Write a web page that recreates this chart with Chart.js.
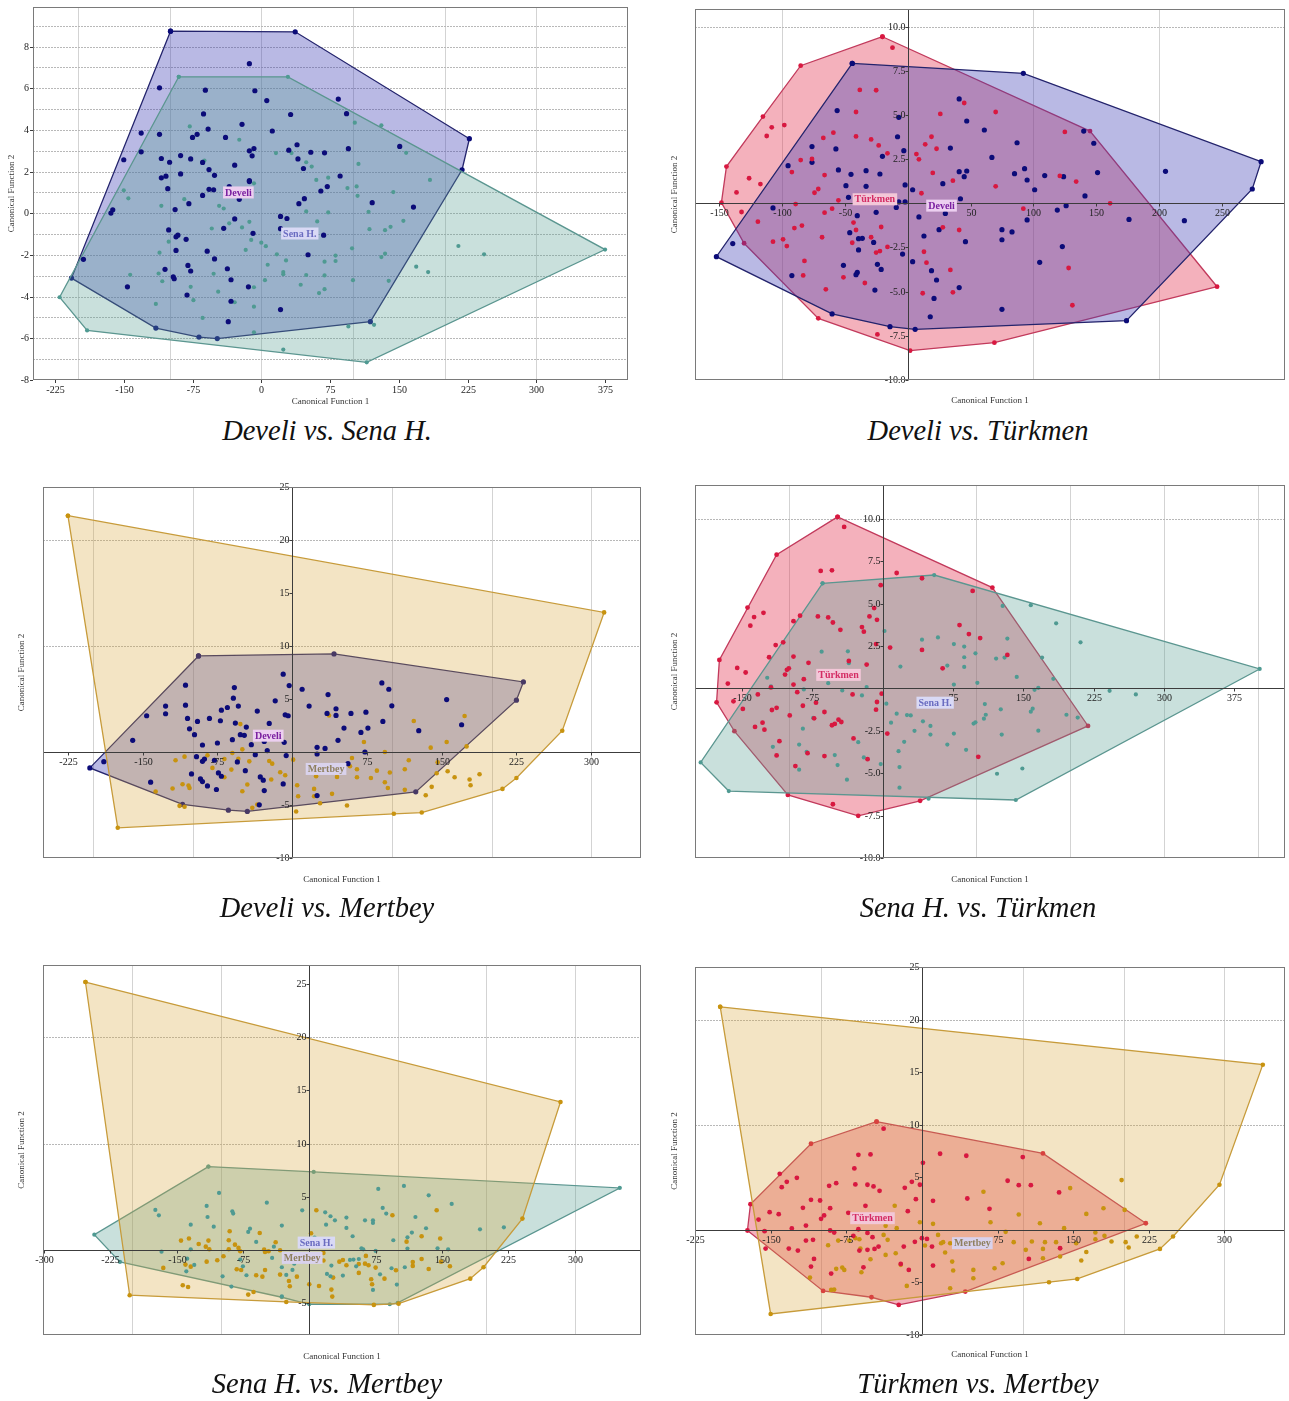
<!DOCTYPE html>
<html>
<head>
<meta charset="utf-8">
<script src="https://cdn.jsdelivr.net/npm/chart.js@4.4.0/dist/chart.umd.min.js"></script>
<style>
  body { margin: 0; background: #fff; width: 1289px; height: 1401px; position: relative; overflow: hidden; }
  canvas { position: absolute; }
  .cap { position: absolute; width: 600px; text-align: center; font: italic 28.5px "Liberation Serif", "Times New Roman", serif; color: #111; }
</style>
</head>
<body>
<canvas id="c1" width="645" height="410" style="left:0;top:0"></canvas>
<canvas id="c2" width="629" height="410" style="left:660px;top:0"></canvas>
<canvas id="c3" width="650" height="425" style="left:0;top:470px"></canvas>
<canvas id="c4" width="629" height="425" style="left:660px;top:470px"></canvas>
<canvas id="c5" width="650" height="420" style="left:0;top:950px"></canvas>
<canvas id="c6" width="629" height="420" style="left:660px;top:950px"></canvas>
<div class="cap" style="left:27px;top:415px">Develi vs. Sena H.</div>
<div class="cap" style="left:678px;top:415px">Develi vs. Türkmen</div>
<div class="cap" style="left:27px;top:892px">Develi vs. Mertbey</div>
<div class="cap" style="left:678px;top:892px">Sena H. vs. Türkmen</div>
<div class="cap" style="left:27px;top:1368px">Sena H. vs. Mertbey</div>
<div class="cap" style="left:678px;top:1368px">Türkmen vs. Mertbey</div>
<script>
// ---- panel 1: Develi vs. Sena H. ----
const p1XTicks = [-225, -150, -75, 0, 75, 150, 225, 300, 375];
const p1YTicks = [-8, -6, -4, -2, 0, 2, 4, 6, 8];
const p1XGrid = [-200, -100, 0, 100, 200, 300];
const p1YGrid = [-7, -6, -5, -4, -3, -2, -1, 0, 1, 2, 3, 4, 5, 6, 7, 8, 9];
const p1DeveliHull = [[-99,8.74],[37,8.71],[227,3.58],[219,2.09],[119,-5.2],[-48,-6.01],[-68,-5.94],[-115,-5.51],[-207,-3.11]];
const p1Develi = [[-13,7.18],[-111,6.02],[-61,5.91],[-7,5.88],[6,5.41],[84,5.48],[-63,4.77],[32,4.74],[93,4.78],[-21,4.27],[-58,4.04],[-131,3.85],[-111,3.79],[-70,3.79],[-75,3.64],[-39,3.64],[12,3.95],[39,3.29],[95,3.10],[151,3.21],[-13,3.0],[-8,3.11],[30,3.03],[-10,2.76],[-150,2.57],[-131,2.95],[-109,2.63],[-100,2.45],[-88,2.77],[-77,2.61],[-64,2.44],[40,2.61],[54,2.93],[69,2.90],[-29,2.31],[46,2.15],[-57,2.10],[-51,1.82],[-88,1.89],[86,1.79],[-109,1.70],[-104,1.78],[-13,1.52],[-13,1.57],[-102,1.18],[-57,1.15],[-52,1.13],[-64,0.86],[-35,1.28],[-24,0.67],[65,1.07],[72,1.28],[47,0.70],[41,0.46],[121,0.51],[166,0.30],[-162,0.17],[-164,0.01],[-94,0.18],[-79,0.46],[-29,-0.27],[21,-0.15],[28,-0.25],[-41,-0.72],[21,-0.74],[-9,-0.96],[68,-1.05],[-101,-0.80],[-91,-1.05],[-93,-1.13],[-82,-1.25],[-93,-1.78],[-59,-1.82],[51,-1.99],[-194,-2.21],[-80,-2.50],[-77,-2.77],[-51,-2.19],[-37,-2.66],[-105,-2.69],[-96,-3.05],[-95,-3.14],[-33,-3.19],[-146,-3.53],[-14,-3.53],[-81,-3.92],[-33,-4.22],[21,-4.62],[-36,-5.20]];
const p1SenaHull = [[-90,6.55],[29,6.55],[375,-1.74],[115,-7.15],[-190,-5.62],[-220,-4.03]];
const p1Sena = [[-78,4.17],[-24,3.53],[102,4.35],[131,4.22],[158,2.90],[16,2.89],[33,2.89],[106,2.37],[49,2.45],[55,2.24],[-62,2.53],[184,1.60],[60,1.60],[73,1.71],[144,1.02],[104,1.29],[94,1.21],[105,0.84],[-150,1.10],[-145,0.72],[-109,0.36],[-84,0.68],[-46,0.36],[-41,0.23],[-8,1.44],[-13,-0.41],[-35,-0.48],[-21,-0.68],[-54,-0.73],[0,-1.41],[5,-1.58],[-17,-1.76],[-11,-1.28],[17,-1.97],[27,-2.26],[7,-2.47],[24,-2.82],[24,-2.92],[49,-2.96],[69,-2.98],[69,-2.32],[81,-2.03],[81,-2.29],[69,-3.64],[63,-3.83],[43,-3.43],[4,-3.21],[-8,-3.55],[-8,-4.48],[-29,-4.27],[-47,-3.76],[-52,-2.90],[-77,-3.53],[-74,-4.17],[-64,-5.02],[-115,-4.35],[-112,-2.89],[-108,-3.26],[-111,-1.89],[-143,-2.95],[-101,-1.36],[-8,-5.71],[24,-6.54],[95,-5.43],[123,-5.35],[139,-3.24],[100,-3.21],[135,-1.94],[131,-2.10],[99,-1.68],[118,-0.76],[135,-0.81],[141,-0.65],[155,-0.36],[117,0.07],[73,0.04],[49,0.09],[61,-0.39],[215,-1.57],[243,-1.97],[169,-2.56],[182,-2.82]];

// ---- panel 2: Develi vs. Türkmen ----
const p2XTicks = [-150, -100, -50, 50, 100, 150, 200, 250];
const p2YTicks = [10, 7.5, 5, 2.5, -2.5, -5, -7.5, -10];
const p2XGrid = [-100, 100, 200];
const p2YGrid = [10];
const p2DeveliHull = [[-44,7.92],[92,7.36],[281,2.36],[274,0.81],[174,-6.64],[6,-7.13],[-14,-6.98],[-60,-6.26],[-152,-3.02]];
const p2Develi = [[41,5.91],[47,4.66],[61,4.15],[-56,5.25],[-7,4.87],[140,4.09],[148,3.40],[87,3.43],[-76,3.21],[-57,3.08],[-8,3.77],[-3,2.98],[34,3.13],[-20,2.66],[67,2.60],[-95,2.13],[-76,2.32],[-55,1.89],[-45,1.64],[-33,1.85],[-22,1.66],[41,1.79],[47,1.83],[45,1.51],[85,1.68],[93,1.96],[95,1.32],[109,1.57],[124,1.51],[151,1.74],[205,1.81],[28,1.11],[-2,1.04],[4,0.77],[-49,1.00],[-33,0.96],[101,0.77],[141,0.42],[42,0.26],[-47,0.34],[-7,0.08],[-2,0.08],[-107,-0.26],[126,-0.13],[119,-0.38],[-9,-0.23],[-25,-0.51],[-40,-0.70],[30,-0.57],[9,-0.77],[95,-0.94],[176,-0.91],[220,-0.98],[25,-1.49],[75,-1.49],[83,-1.62],[-46,-1.66],[-39,-2.0],[-36,-1.98],[-27,-2.21],[13,-1.85],[75,-2.06],[46,-2.17],[-39,-2.64],[123,-2.45],[-4,-2.87],[-51,-3.51],[-24,-3.45],[-21,-3.74],[-40,-3.91],[-41,-4.04],[4,-3.30],[19,-3.81],[23,-4.34],[-92,-4.09],[-26,-4.91],[41,-4.77],[21,-5.38],[18,-6.42],[75,-6.0],[105,-3.34],[-139,-2.28]];
const p2TurkmenHull = [[-20,9.43],[145,4.09],[246,-4.72],[69,-7.89],[2,-8.34],[-71,-6.51],[-130,-2.26],[-148,0.04],[-144,2.08],[-115,4.91],[-85,7.79]];
const p2Turkmen = [[-12,8.81],[-38,6.42],[-25,6.40],[45,5.68],[70,5.17],[26,5.06],[-41,5.17],[-98,4.43],[-108,4.30],[-112,3.81],[-59,4.0],[-67,3.70],[-41,3.79],[-29,3.62],[-23,3.28],[19,3.77],[14,3.34],[23,3.09],[125,4.04],[-16,2.83],[7,2.79],[9,2.49],[-85,2.45],[-76,2.51],[-92,1.77],[-66,1.60],[20,1.72],[36,1.28],[121,1.55],[134,1.23],[-126,1.42],[-117,1.09],[-136,0.62],[-71,0.81],[-74,0.60],[70,0.96],[-55,0.17],[11,0.57],[-60,-0.30],[-66,-0.53],[-89,-0.04],[-132,-0.49],[-119,-1.04],[161,0.0],[92,-0.30],[-43,-1.09],[-41,-1.51],[-21,-1.34],[28,-1.36],[41,-1.51],[-90,-1.40],[-84,-1.26],[-68,-1.92],[-99,-2.04],[-96,-2.42],[-107,-2.17],[-44,-2.23],[-29,-1.92],[-25,-2.79],[-22,-2.70],[-16,-2.47],[13,-2.74],[15,-3.36],[34,-3.77],[128,-3.66],[-82,-3.26],[-83,-4.08],[-51,-4.19],[-34,-4.51],[-65,-4.87],[12,-5.09],[36,-5.04],[131,-5.77],[-24,-7.42]];

// ---- panel 3: Develi vs. Mertbey ----
const p3XTicks = [-225, -150, -75, 75, 150, 225, 300];
const p3YTicks = [25, 20, 15, 10, 5, -5, -10];
const p3XGrid = [-200, -100, 100, 200, 300];
const p3YGrid = [10, 20];
const p3MertbeyHull = [[-225,22.29],[313,13.17],[271,2.01],[225,-2.45],[211,-3.48],[130,-5.71],[102,-5.83],[-175,-7.15]];
const p3Mertbey = [[173,3.39],[122,2.92],[37,3.45],[-52,2.63],[-27,1.32],[72,0.94],[155,0.94],[175,0.53],[139,0.41],[93,0.0],[-60,-0.09],[-50,0.25],[-85,-0.31],[-117,-0.78],[-108,-0.44],[-68,-0.66],[-54,-0.63],[-43,-0.88],[-23,-0.85],[-20,-1.10],[1,-0.72],[117,-0.78],[60,-0.56],[58,-1.35],[65,-1.63],[85,-1.76],[98,-1.94],[146,-0.97],[156,-1.82],[163,-2.38],[178,-2.60],[188,-2.10],[179,-3.13],[145,-2.01],[140,-3.29],[134,-4.08],[113,-1.63],[79,-2.45],[65,-2.38],[93,-2.85],[96,-3.39],[113,-3.57],[40,-1.94],[45,-2.35],[24,-2.29],[5,-3.13],[22,-3.48],[6,-4.17],[22,-4.17],[40,-3.95],[28,-4.83],[55,-5.05],[4,-5.61],[-21,-2.60],[-45,-3.07],[-68,-2.38],[-61,-1.66],[-80,-1.50],[-110,-3.04],[-104,-3.17],[-103,-3.39],[-120,-3.45],[-137,-3.73],[-113,-5.08],[-108,-5.17],[-40,-5.27],[-35,-4.95],[-50,-3.70],[-12,-1.91],[-7,-2.19]];
const p3DeveliHull = [[-94,9.06],[42,9.25],[232,6.61],[225,4.89],[124,-3.76],[-45,-5.61],[-64,-5.49],[-110,-4.95],[-203,-1.50]];
const p3Develi = [[-9,7.34],[-3,6.27],[-107,6.30],[-58,6.08],[10,5.92],[90,6.52],[97,5.92],[36,5.42],[155,4.95],[-17,4.83],[-59,5.08],[-54,4.33],[17,4.33],[100,4.36],[-127,4.33],[-127,3.61],[-146,3.42],[-107,4.42],[-71,3.95],[-65,4.20],[-35,3.86],[44,4.08],[35,3.64],[44,3.45],[59,3.64],[74,3.76],[-7,3.51],[-4,3.42],[-105,3.17],[-95,2.88],[-83,3.17],[-72,2.95],[-57,2.73],[-46,2.35],[-23,2.70],[91,2.88],[170,2.57],[-103,2.19],[-98,1.63],[-52,1.63],[-48,1.57],[52,2.26],[76,2.26],[69,1.85],[127,2.01],[-160,1.10],[-90,0.66],[-75,0.85],[-60,1.16],[-41,0.69],[-28,1.00],[-8,0.91],[46,1.10],[25,0.44],[33,0.34],[73,0.0],[-189,-0.91],[-96,-0.44],[-88,-0.66],[-90,-0.88],[-25,0.13],[-37,-0.25],[-6,-0.34],[-55,-0.94],[-78,-0.78],[-47,-1.76],[25,-0.19],[56,-1.10],[-101,-2.07],[-74,-1.97],[-71,-2.29],[-32,-2.35],[-29,-2.66],[-9,-3.01],[-92,-2.54],[-90,-2.79],[-85,-3.20],[-76,-3.54],[-28,-3.64],[-142,-2.85],[25,-4.11],[-33,-4.98]];

// ---- panel 4: Sena H. vs. Türkmen ----
const p4XTicks = [-150, -75, 75, 150, 225, 300, 375];
const p4YTicks = [10, 7.5, 5, 2.5, -2.5, -5, -7.5, -10];
const p4XGrid = [-100, 100, 200, 300, 400];
const p4YGrid = [10];
const p4SenaHull = [[-64,6.20],[55,6.69],[402,1.15],[142,-6.58],[-164,-6.05],[-194,-4.36]];
const p4Sena = [[128,4.87],[158,4.91],[185,3.84],[211,2.72],[133,2.94],[59,3.01],[42,2.88],[76,2.62],[87,2.47],[99,2.07],[87,1.84],[121,1.76],[130,1.82],[170,1.82],[69,1.35],[87,1.27],[76,0.23],[101,0.33],[143,0.68],[166,0.04],[162,-0.08],[182,0.57],[242,-0.14],[270,-0.35],[2,3.39],[19,1.29],[-65,2.17],[-37,2.19],[-36,1.49],[-17,0.08],[-22,-0.41],[-58,0.31],[-43,-0.12],[-123,0.63],[-119,0.12],[-84,-0.06],[4,-0.90],[15,-1.49],[26,-1.57],[30,-1.59],[43,-1.94],[51,-2.21],[51,-2.72],[76,-2.66],[69,-3.31],[89,-3.62],[97,-2.07],[99,-2.0],[110,-1.55],[108,-1.78],[109,-0.92],[126,-1.23],[127,-2.72],[158,-1.37],[160,-1.19],[166,-2.49],[196,-1.55],[208,-1.72],[9,-2.02],[34,-2.50],[23,-3.15],[17,-3.70],[18,-4.64],[18,-5.85],[-2,-4.46],[-20,-4.07],[-26,-3.17],[-38,-5.38],[-48,-4.52],[-51,-3.93],[-89,-3.31],[-81,-3.74],[-89,-4.79],[-74,-1.74],[-85,-2.37],[-117,-3.44],[49,-6.50],[122,-5.03],[149,-4.72]];
const p4TurkmenHull = [[-48,10.12],[117,5.95],[219,-2.21],[40,-6.63],[-26,-7.51],[-101,-6.28],[-158,-2.52],[-177,-0.82],[-174,1.68],[-113,7.89]];
const p4Turkmen = [[-41,9.53],[-66,6.93],[-54,6.97],[15,6.81],[42,6.50],[-2,6.09],[96,5.75],[-144,4.77],[-9,4.74],[-127,4.46],[-137,4.21],[-141,3.70],[-69,4.25],[-58,4.19],[-88,4.29],[-95,3.97],[-53,3.89],[-6,4.05],[-14,4.25],[-45,3.46],[-22,3.62],[-20,3.35],[82,3.74],[92,3.21],[104,2.97],[-114,2.56],[-106,2.72],[8,2.41],[-7,2.62],[42,2.27],[133,1.98],[-121,1.84],[-95,1.88],[-79,1.51],[-155,1.21],[-146,0.94],[-102,1.10],[-100,1.19],[-104,0.82],[-17,1.41],[-36,1.62],[64,1.19],[-165,0.29],[-95,0.23],[-91,-0.22],[-84,0.55],[-50,0.65],[-32,-0.35],[-1,-0.31],[-119,0.06],[-133,-0.35],[-159,-0.76],[-149,-1.21],[-118,-1.27],[-113,-1.14],[-99,-1.59],[-85,-1.02],[-71,-0.84],[-62,-1.39],[-73,-1.76],[-47,-1.84],[-54,-2.17],[-51,-2.09],[-44,-1.98],[-6,-0.80],[-7,-1.25],[-136,-2.27],[-128,-2.02],[-126,-2.43],[5,-2.66],[-31,-2.95],[-110,-3.11],[-113,-3.95],[-80,-3.82],[-62,-3.99],[-16,-4.17],[-93,-4.58],[102,-4.03],[-53,-6.83]];

// ---- panel 5: Sena H. vs. Mertbey ----
const p5XTicks = [-300, -225, -150, -75, 75, 150, 225, 300];
const p5YTicks = [25, 20, 15, 10, 5, -5];
const p5XGrid = [-200, -100, 100, 200, 300];
const p5YGrid = [10, 20];
const p5MertbeyHull = [[-253,25.2],[284,13.92],[241,2.95],[197,-1.63],[182,-2.70],[101,-5.05],[73,-5.17],[-26,-4.89],[-203,-4.26]];
const p5Mertbey = [[8,3.73],[94,3.26],[144,3.73],[-90,1.76],[-56,1.60],[2,1.57],[-38,0.72],[-145,0.88],[-136,1.07],[-125,0.56],[-114,0.88],[-117,0.31],[-113,0.06],[-91,0.91],[-91,0.06],[-84,0.50],[-80,0.19],[-78,-0.13],[-51,0.03],[-50,-0.19],[-46,-0.13],[-33,-0.03],[-22,-0.44],[16,-0.28],[16,-1.0],[34,-1.10],[38,-0.94],[42,-1.44],[56,-1.32],[64,-0.56],[67,-1.44],[75,-1.66],[110,0.78],[127,1.29],[148,1.07],[117,-1.13],[117,-1.50],[135,-1.79],[159,-1.54],[127,-0.85],[149,-1.10],[98,-1.91],[85,-2.70],[70,-2.76],[71,-3.23],[27,-2.60],[25,-3.73],[26,-4.39],[11,-3.39],[0,-3.23],[-22,-3.42],[-23,-2.92],[-33,-2.32],[-60,-2.38],[-50,-1.88],[-69,-4.20],[-63,-3.95],[-143,-3.32],[-137,-3.48],[-165,-1.69],[-140,-1.38],[-134,-1.57],[-116,-1.10],[-104,-0.97],[-97,-0.60],[-82,-1.82],[-77,-1.88],[-53,-2.51],[-14,-2.51],[56,-2.16],[63,-1.29]];
const p5SenaHull = [[-114,7.84],[5,7.34],[351,5.83],[100,-4.98],[91,-5.11],[0,-5.11],[-31,-4.45],[-214,-1.13],[-243,1.44]];
const p5Sena = [[107,6.02],[78,5.74],[135,5.14],[-102,5.36],[-48,4.45],[161,4.33],[83,3.95],[-116,4.14],[-174,3.76],[-170,3.26],[-115,3.10],[-87,3.64],[-86,3.42],[-8,3.73],[18,3.54],[24,3.17],[29,2.79],[42,3.04],[63,2.79],[72,2.79],[72,2.54],[87,3.42],[120,3.10],[132,2.04],[116,1.63],[193,1.94],[220,2.13],[-134,2.38],[-108,2.19],[-67,2.0],[-69,1.69],[-31,2.29],[19,2.38],[42,2.07],[49,1.29],[111,1.19],[95,0.91],[-60,0.75],[-40,0.31],[6,1.16],[-134,0.06],[-167,-0.16],[59,0.16],[61,0.06],[75,-0.09],[111,0.13],[145,0.16],[157,0.06],[-138,-0.82],[-130,-1.41],[-139,-2.01],[-78,-0.91],[-75,-1.54],[-71,-2.38],[-42,-0.75],[-31,-1.63],[-26,-2.35],[-19,-1.88],[-17,-1.29],[-6,-1.13],[25,-1.47],[20,-2.26],[46,-0.94],[50,-0.91],[38,-2.41],[53,-1.54],[56,-0.85],[72,-3.76],[80,-2.29],[-98,-2.48],[-88,-3.45],[-31,-4.36],[24,-2.48],[99,-3.26],[93,-1.72],[108,-1.63]];

// ---- panel 6: Türkmen vs. Mertbey ----
const p6XTicks = [-225, -150, -75, 75, 150, 225, 300];
const p6YTicks = [25, 20, 15, 10, 5, -5, -10];
const p6XGrid = [-100, 100, 200, 300];
const p6YGrid = [10, 20];
const p6MertbeyHull = [[-200,21.21],[338,15.71],[295,4.29],[249,-0.63],[236,-1.81],[154,-4.67],[126,-4.98],[-150,-8.0]];
const p6Mertbey = [[198,4.73],[147,3.97],[61,3.62],[-27,2.29],[180,2.06],[201,1.90],[163,1.52],[96,1.46],[68,0.73],[117,0.63],[-2,0.73],[11,0.57],[-36,0.38],[-25,0.16],[141,0.16],[172,-0.25],[172,-0.89],[181,-0.57],[188,-1.11],[202,-1.17],[205,-1.68],[213,-0.63],[83,-0.19],[91,-1.17],[109,-1.11],[122,-1.17],[133,-1.17],[153,-1.27],[163,-2.10],[158,-2.92],[137,-2.54],[120,-1.81],[120,-2.70],[103,-1.90],[80,-3.17],[72,-3.65],[51,-3.81],[30,-3.02],[23,-2.16],[3,-1.49],[19,-1.27],[28,-1.27],[21,-1.17],[16,-0.48],[31,-3.87],[51,-4.60],[28,-5.56],[-15,-5.33],[-21,-3.33],[-26,-2.22],[-38,-0.48],[-34,-0.95],[-62,-0.89],[-61,-1.78],[-36,-2.38],[-51,-2.79],[-66,-0.79],[-72,-1.02],[-83,-1.02],[-93,-1.46],[-79,-3.59],[-77,-3.81],[-85,-3.71],[-60,-4.03],[-87,-5.68],[-90,-5.71],[-111,-4.54]];
const p6TurkmenHull = [[-45,10.29],[120,7.27],[222,0.63],[43,-5.87],[-23,-7.14],[-50,-6.41],[-98,-5.81],[-173,-0.06],[-170,2.44],[-110,8.19]];
const p6Turkmen = [[-38,9.62],[-63,7.14],[-51,7.17],[18,7.24],[44,7.05],[100,6.92],[-67,5.84],[1,6.38],[-141,5.33],[-134,4.57],[-124,4.95],[-139,4.06],[-92,4.19],[-85,4.44],[-66,4.32],[-54,4.29],[-48,4.13],[-42,3.71],[-17,4.0],[-10,4.57],[-2,4.29],[85,4.67],[96,4.25],[108,4.25],[136,3.56],[-6,2.92],[11,2.76],[45,2.98],[-110,2.86],[-101,2.79],[-118,2.10],[-91,2.06],[-56,2.29],[67,2.0],[-14,1.78],[-151,1.68],[-142,1.49],[-162,0.98],[-100,1.05],[-97,1.37],[-73,1.62],[-63,0.89],[-115,0.41],[-156,-0.13],[-129,0.13],[-91,-0.06],[-87,-0.25],[-68,-0.57],[-63,0.06],[-54,-0.29],[-49,-0.70],[-115,-1.02],[-108,-0.95],[-155,-1.78],[-132,-1.78],[-123,-1.97],[-107,-2.76],[-110,-3.49],[-90,-4.16],[-58,-3.56],[-54,-1.90],[-47,-1.81],[-43,-1.59],[-62,-1.97],[-18,-1.59],[-7,-1.14],[0,-0.79],[5,-0.86],[11,-3.40],[-13,-3.81],[-21,-3.24],[10,-1.59],[106,-2.76],[137,-1.75]];

const FONT = '"Liberation Serif", "Times New Roman", serif';

// group styles
const STY = {
  Develi:  { pt: '#0b0b78', line: '#23236c', fill: 'rgba(60,60,180,0.36)', r: 2.6, text: '#7a1fa0', bg: '#eccff0' },
  'Sena H.': { pt: '#4f9a92', line: '#5b9690', fill: 'rgba(90,160,150,0.33)', r: 2.1, text: '#6a6cc0', bg: '#d9d9f5' },
  'Türkmen': { pt: '#d81840', line: '#c23a5c', fill: 'rgba(225,50,80,0.38)', r: 2.4, text: '#d42c64', bg: '#f3c7d8' },
  Mertbey: { pt: '#c8930f', line: '#c79b3a', fill: 'rgba(215,165,60,0.30)', r: 2.3, text: '#8f8060', bg: '#d9d2ec' }
};

function toXY(a) { return a.map(p => ({ x: p[0], y: p[1] })); }
function closed(a) { const r = toXY(a); r.push(r[0]); return r; }

function fmt(v, dec) { return dec ? v.toFixed(dec) : String(v); }

function makeDeco(cfg) {
  return {
    id: 'deco',
    beforeDatasetsDraw(chart) {
      const { ctx, chartArea: a, scales: { x, y } } = chart;
      ctx.save();
      ctx.lineWidth = 1;
      ctx.strokeStyle = '#d3d3d3';
      cfg.xGrid.forEach(v => {
        const px = Math.round(x.getPixelForValue(v)) + 0.5;
        ctx.beginPath(); ctx.moveTo(px, a.top); ctx.lineTo(px, a.bottom); ctx.stroke();
      });
      ctx.strokeStyle = '#b8b8b8';
      ctx.setLineDash([2, 1]);
      cfg.yGrid.forEach(v => {
        const py = Math.round(y.getPixelForValue(v)) + 0.5;
        ctx.beginPath(); ctx.moveTo(a.left, py); ctx.lineTo(a.right, py); ctx.stroke();
      });
      ctx.restore();
    },
    afterDatasetsDraw(chart) {
      const { ctx, chartArea: a, scales: { x, y } } = chart;
      ctx.save();
      ctx.lineWidth = 1;
      ctx.font = '10px ' + FONT;
      ctx.fillStyle = '#222';
      ctx.strokeStyle = '#3c3c3c';
      if (cfg.centered) {
        const x0 = Math.round(x.getPixelForValue(0)) + 0.5;
        const y0 = Math.round(y.getPixelForValue(0)) + 0.5;
        ctx.beginPath(); ctx.moveTo(x0, a.top); ctx.lineTo(x0, a.bottom); ctx.stroke();
        ctx.beginPath(); ctx.moveTo(a.left, y0); ctx.lineTo(a.right, y0); ctx.stroke();
        ctx.textAlign = 'right'; ctx.textBaseline = 'middle';
        cfg.yTicks.forEach(v => {
          const py = Math.round(y.getPixelForValue(v)) + 0.5;
          ctx.beginPath(); ctx.moveTo(x0 - 3, py); ctx.lineTo(x0, py); ctx.stroke();
          ctx.fillText(fmt(v, cfg.yDec), x0 - 3, py);
        });
        ctx.textAlign = 'center'; ctx.textBaseline = 'top';
        cfg.xTicks.forEach(v => {
          const px = Math.round(x.getPixelForValue(v)) + 0.5;
          ctx.beginPath(); ctx.moveTo(px, y0); ctx.lineTo(px, y0 + 3); ctx.stroke();
          ctx.fillText(fmt(v), px, y0 + 5);
        });
      } else {
        ctx.textAlign = 'right'; ctx.textBaseline = 'middle';
        cfg.yTicks.forEach(v => {
          const py = Math.round(y.getPixelForValue(v)) + 0.5;
          ctx.beginPath(); ctx.moveTo(a.left - 3, py); ctx.lineTo(a.left, py); ctx.stroke();
          ctx.fillText(fmt(v), a.left - 4, py);
        });
        ctx.textAlign = 'center'; ctx.textBaseline = 'top';
        cfg.xTicks.forEach(v => {
          const px = Math.round(x.getPixelForValue(v)) + 0.5;
          ctx.beginPath(); ctx.moveTo(px, a.bottom); ctx.lineTo(px, a.bottom + 3); ctx.stroke();
          ctx.fillText(fmt(v), px, a.bottom + 5);
        });
      }
      // frame
      ctx.strokeStyle = '#7a7a7a';
      ctx.strokeRect(a.left + 0.5, a.top + 0.5, a.right - a.left - 1, a.bottom - a.top - 1);

      // group name labels
      ctx.font = 'bold 10px ' + FONT;
      ctx.textAlign = 'center'; ctx.textBaseline = 'middle';
      cfg.labels.forEach(l => {
        const s = STY[l.name];
        const px = x.getPixelForValue(l.at[0]), py = y.getPixelForValue(l.at[1]);
        const w = ctx.measureText(l.name).width + 4;
        ctx.fillStyle = s.bg;
        ctx.fillRect(px - w / 2, py - 6, w, 12);
        ctx.fillStyle = s.text;
        ctx.fillText(l.name, px, py + 0.5);
      });

      // axis titles
      ctx.font = '9px ' + FONT;
      ctx.fillStyle = '#333';
      ctx.fillText('Canonical Function 1', (a.left + a.right) / 2, a.bottom + cfg.xTitleGap);
      ctx.translate(cfg.yTitleX, (a.top + a.bottom) / 2);
      ctx.rotate(-Math.PI / 2);
      ctx.fillText('Canonical Function 2', 0, 0);
      ctx.restore();
    }
  };
}

function makeChart(id, cfg) {
  const datasets = [];
  // points on top, hulls underneath
  cfg.groups.forEach((g, i) => {
    const s = STY[g.name];
    datasets.push({
      type: 'scatter', label: g.name + ' points', data: toXY(g.pts), order: i,
      pointRadius: s.r, pointBackgroundColor: s.pt, pointBorderWidth: 0
    });
  });
  cfg.groups.forEach((g, i) => {
    const s = STY[g.name];
    datasets.push({
      type: 'line', label: g.name + ' hull', data: closed(g.hull), order: 10 + (cfg.groups.length - i),
      borderColor: s.line, borderWidth: 1.3, backgroundColor: s.fill, fill: 'shape', tension: 0,
      pointRadius: s.r, pointBackgroundColor: s.pt, pointBorderWidth: 0
    });
  });
  return new Chart(document.getElementById(id), {
    type: 'scatter',
    data: { datasets },
    options: {
      responsive: false, animation: false, devicePixelRatio: 1,
      layout: { padding: cfg.pad },
      plugins: { legend: { display: false }, tooltip: { enabled: false } },
      scales: {
        x: { type: 'linear', min: cfg.xr[0], max: cfg.xr[1], display: false },
        y: { type: 'linear', min: cfg.yr[0], max: cfg.yr[1], display: false }
      }
    },
    plugins: [makeDeco(cfg)]
  });
}

makeChart('c1', {
  pad: { left: 33, top: 7, right: 17, bottom: 30 }, xr: [-249, 400], yr: [-8, 9.9],
  centered: false, xTicks: p1XTicks, yTicks: p1YTicks, xGrid: p1XGrid, yGrid: p1YGrid,
  xTitleGap: 22, yTitleX: 12,
  groups: [{ name: 'Develi', pts: p1Develi, hull: p1DeveliHull }, { name: 'Sena H.', pts: p1Sena, hull: p1SenaHull }],
  labels: [{ name: 'Develi', at: [-25, 1.0] }, { name: 'Sena H.', at: [42, -0.97] }]
});
makeChart('c2', {
  pad: { left: 35, top: 9, right: 0, bottom: 30 }, xr: [-169, 300], yr: [-10, 11],
  centered: true, yDec: 1, xTicks: p2XTicks, yTicks: p2YTicks, xGrid: p2XGrid, yGrid: p2YGrid,
  xTitleGap: 21, yTitleX: 15,
  groups: [{ name: 'Türkmen', pts: p2Turkmen, hull: p2TurkmenHull }, { name: 'Develi', pts: p2Develi, hull: p2DeveliHull }],
  labels: [{ name: 'Türkmen', at: [-26, 0.23] }, { name: 'Develi', at: [27, -0.13] }]
});
makeChart('c3', {
  pad: { left: 43, top: 17, right: 9, bottom: 37 }, xr: [-250, 350], yr: [-10, 25],
  centered: true, xTicks: p3XTicks, yTicks: p3YTicks, xGrid: p3XGrid, yGrid: p3YGrid,
  xTitleGap: 22, yTitleX: 22,
  groups: [{ name: 'Develi', pts: p3Develi, hull: p3DeveliHull }, { name: 'Mertbey', pts: p3Mertbey, hull: p3MertbeyHull }],
  labels: [{ name: 'Develi', at: [-24, 1.54] }, { name: 'Mertbey', at: [34, -1.6] }]
});
makeChart('c4', {
  pad: { left: 35, top: 15, right: 0, bottom: 37 }, xr: [-200, 429], yr: [-10, 12],
  centered: true, yDec: 1, xTicks: p4XTicks, yTicks: p4YTicks, xGrid: p4XGrid, yGrid: p4YGrid,
  xTitleGap: 22, yTitleX: 15,
  groups: [{ name: 'Türkmen', pts: p4Turkmen, hull: p4TurkmenHull }, { name: 'Sena H.', pts: p4Sena, hull: p4SenaHull }],
  labels: [{ name: 'Türkmen', at: [-47, 0.8] }, { name: 'Sena H.', at: [56, -0.84] }]
});
makeChart('c5', {
  pad: { left: 43, top: 15, right: 9, bottom: 35 }, xr: [-301, 375], yr: [-8, 26.8],
  centered: true, xTicks: p5XTicks, yTicks: p5YTicks, xGrid: p5XGrid, yGrid: p5YGrid,
  xTitleGap: 22, yTitleX: 22,
  groups: [{ name: 'Sena H.', pts: p5Sena, hull: p5SenaHull }, { name: 'Mertbey', pts: p5Mertbey, hull: p5MertbeyHull }],
  labels: [{ name: 'Sena H.', at: [8, 0.69] }, { name: 'Mertbey', at: [-8, -0.75] }]
});
makeChart('c6', {
  pad: { left: 35, top: 17, right: 0, bottom: 35 }, xr: [-225, 360], yr: [-10, 25],
  centered: true, xTicks: p6XTicks, yTicks: p6YTicks, xGrid: p6XGrid, yGrid: p6YGrid,
  xTitleGap: 20, yTitleX: 15,
  groups: [{ name: 'Türkmen', pts: p6Turkmen, hull: p6TurkmenHull }, { name: 'Mertbey', pts: p6Mertbey, hull: p6MertbeyHull }],
  labels: [{ name: 'Türkmen', at: [-49, 1.11] }, { name: 'Mertbey', at: [50, -1.27] }]
});
</script>
</body>
</html>
